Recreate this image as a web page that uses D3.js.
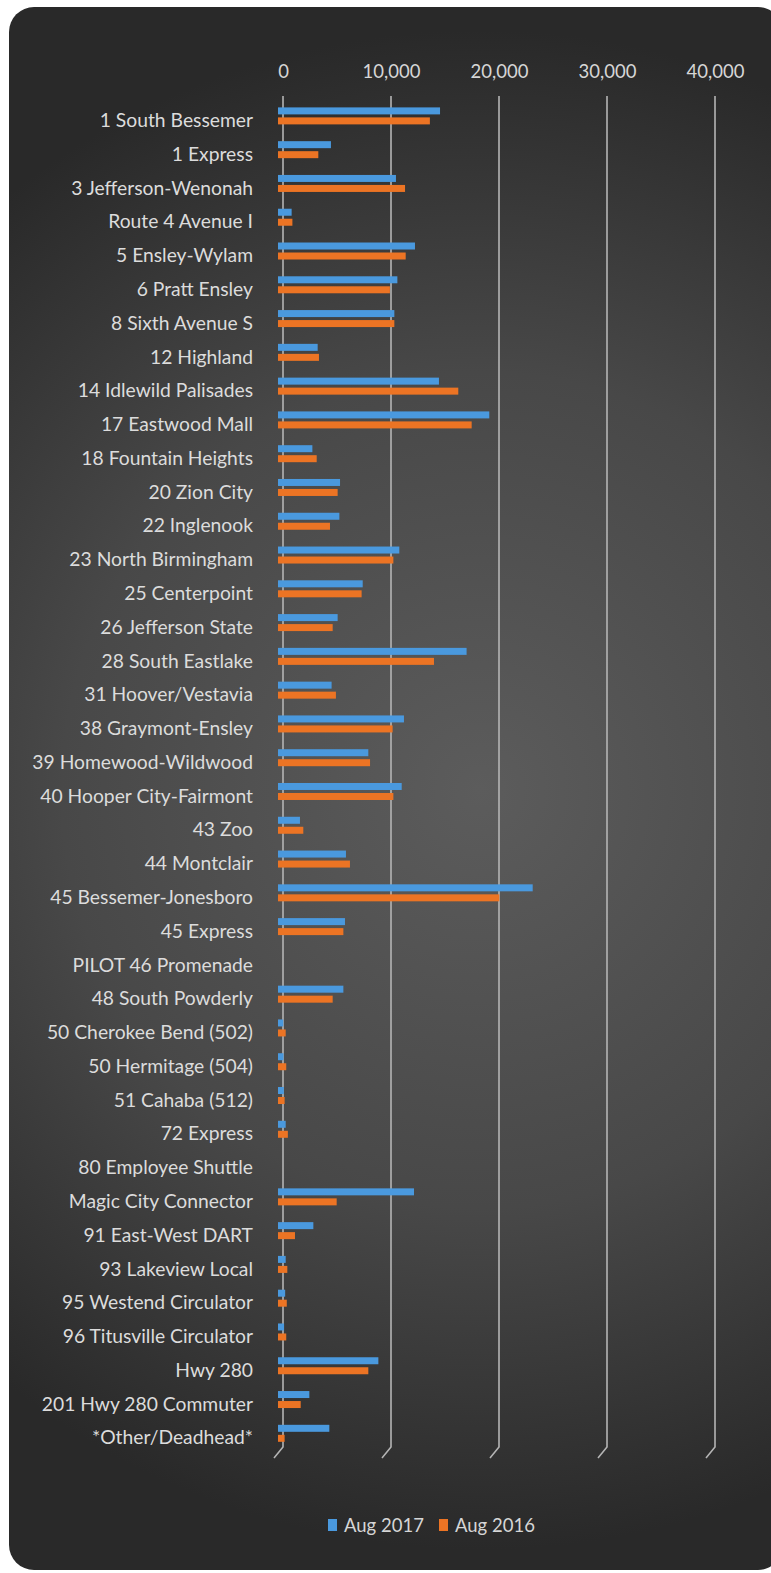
<!DOCTYPE html>
<html>
<head>
<meta charset="utf-8">
<script src="https://cdn.jsdelivr.net/npm/d3@7"></script>
<style>
  html, body { margin: 0; padding: 0; background: #ffffff; }
  svg { display: block; }
</style>
</head>
<body>
<script>
const categories = [
  "1 South Bessemer", "1 Express", "3 Jefferson-Wenonah", "Route 4 Avenue I",
  "5 Ensley-Wylam", "6 Pratt Ensley", "8 Sixth Avenue S", "12 Highland",
  "14 Idlewild Palisades", "17 Eastwood Mall", "18 Fountain Heights", "20 Zion City",
  "22 Inglenook", "23 North Birmingham", "25 Centerpoint", "26 Jefferson State",
  "28 South Eastlake", "31 Hoover/Vestavia", "38 Graymont-Ensley", "39 Homewood-Wildwood",
  "40 Hooper City-Fairmont", "43 Zoo", "44 Montclair", "45 Bessemer-Jonesboro",
  "45 Express", "PILOT 46 Promenade", "48 South Powderly", "50 Cherokee Bend (502)",
  "50 Hermitage (504)", "51 Cahaba (512)", "72 Express", "80 Employee Shuttle",
  "Magic City Connector", "91 East-West DART", "93 Lakeview Local", "95 Westend Circulator",
  "96 Titusville Circulator", "Hwy 280", "201 Hwy 280 Commuter", "*Other/Deadhead*"
];
const aug2017 = [
  14540, 4440, 10460, 800,
  12220, 10590, 10310, 3210,
  14440, 19100, 2720, 5280,
  5220, 10770, 7380, 5060,
  17000, 4500, 11200, 7900,
  10990, 1570, 5830, 23120,
  5740, 0, 5590, 30,
  50, 80, 250, 0,
  12130, 2810, 250, 200,
  100, 8830, 2440, 4290
];
const aug2016 = [
  13600, 3270, 11300, 870,
  11360, 9900, 10310, 3330,
  16230, 17470, 3120, 5060,
  4350, 10220, 7280, 4600,
  13980, 4900, 10150, 8060,
  10220, 1880, 6200, 20030,
  5590, 0, 4600, 250,
  300, 150, 450, 0,
  4970, 1110, 400, 350,
  300, 7900, 1640, 150
];
const seriesNames = ["Aug 2017", "Aug 2016"];
const seriesColors = ["#4a99de", "#ec7424"];
const tickValues = [0, 10000, 20000, 30000, 40000];

const W = 771, H = 1573;
const svg = d3.select("body").append("svg").attr("width", W).attr("height", H);
const defs = svg.append("defs");
const grad = defs.append("radialGradient").attr("id", "bg")
  .attr("gradientUnits", "userSpaceOnUse")
  .attr("cx", 480).attr("cy", 790).attr("r", 760);
grad.append("stop").attr("offset", "0").attr("stop-color", "#5c5c5c");
grad.append("stop").attr("offset", "0.55").attr("stop-color", "#484848");
grad.append("stop").attr("offset", "1").attr("stop-color", "#292929");

svg.append("rect").attr("x", 9).attr("y", 7).attr("width", 774).attr("height", 1563)
  .attr("rx", 25).attr("fill", "url(#bg)");

const x = d3.scaleLinear().domain([0, 40000]).range([283, 715]);
const y = d3.scaleBand().domain(categories).range([99, 1450.2]);
const ySub = d3.scaleBand().domain(seriesNames).range([-8.5, 8.5]).paddingInner(0.3);

const font = "Lato, 'Open Sans', sans-serif";

// gridlines
svg.append("g").selectAll("path").data(tickValues).join("path")
  .attr("d", d => `M${x(d)},96 V1447 L${x(d) - 9},1458`)
  .attr("fill", "none")
  .attr("stroke", "#b4b4b4")
  .attr("stroke-width", 1.6);

// top axis labels
const xAxis = svg.append("g").attr("transform", "translate(0,77.5)")
  .call(d3.axisTop(x).tickValues(tickValues).tickFormat(d3.format(",")).tickSize(0).tickPadding(0));
xAxis.select(".domain").remove();
xAxis.selectAll("text").attr("fill", "#d6d6d6").attr("font-family", font).attr("font-size", 18.5);

// category labels
const yAxis = svg.append("g").attr("transform", "translate(253,5)")
  .call(d3.axisLeft(y).tickSize(0).tickPadding(0));
yAxis.select(".domain").remove();
yAxis.selectAll("text").attr("fill", "#dcdcdc").attr("font-family", font).attr("font-size", 19.3);

// bars
const series = [aug2017, aug2016];
const barsG = svg.append("g");
series.forEach((vals, si) => {
  barsG.append("g").selectAll("rect")
    .data(categories.map((c, i) => ({ c, v: vals[i] })).filter(d => d.v > 0))
    .join("rect")
    .attr("x", x(0) - 5)
    .attr("y", d => y(d.c) + y.bandwidth() / 2 + ySub(seriesNames[si]))
    .attr("width", d => x(d.v) - x(0) + 5)
    .attr("height", ySub.bandwidth())
    .attr("fill", seriesColors[si]);
});

// legend
const legend = svg.append("g");
const legendX = [328, 439];
seriesNames.forEach((name, i) => {
  legend.append("rect").attr("x", legendX[i]).attr("y", 1519).attr("width", 9).attr("height", 12)
    .attr("fill", seriesColors[i]);
  legend.append("text").attr("x", legendX[i] + 16).attr("y", 1531.5)
    .attr("fill", "#d6d6d6").attr("font-family", font).attr("font-size", 18.5)
    .text(name);
});
</script>
</body>
</html>
